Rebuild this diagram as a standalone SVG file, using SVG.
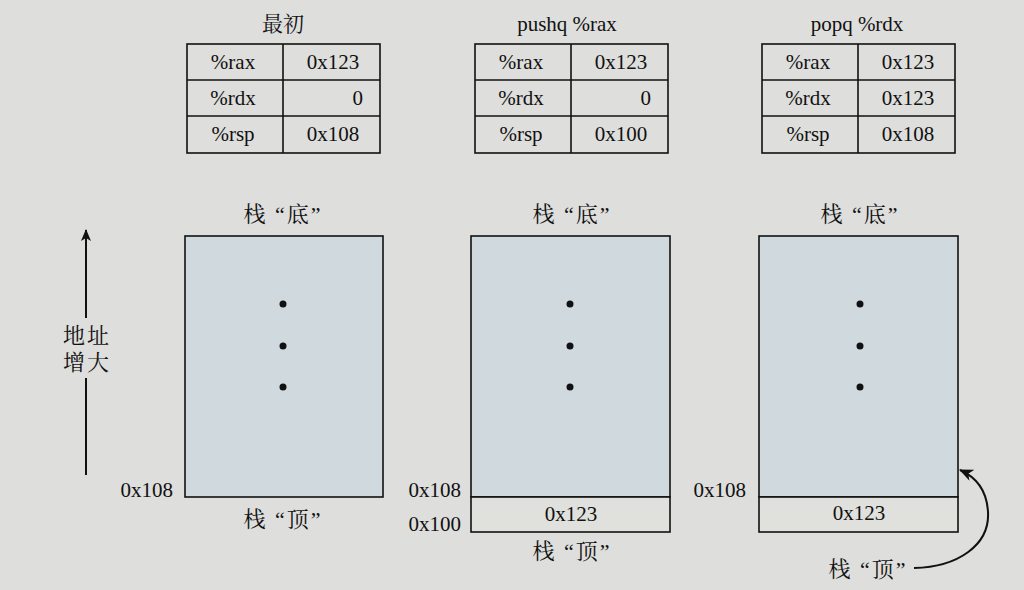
<svg xmlns="http://www.w3.org/2000/svg" width="1024" height="590" viewBox="0 0 1024 590">
<style>
.t{font-family:"Liberation Serif","Noto Serif CJK SC","Noto Sans CJK SC",serif;font-size:21px;fill:#111;}
.lb{font-size:22px;letter-spacing:2px;}
.c{text-anchor:middle;}
.r{text-anchor:end;}
.cell{fill:none;stroke:#111;stroke-width:1.6;}
.stk{fill:#cfd9de;stroke:#111;stroke-width:1.6;}
.low{fill:#e0e0dd;stroke:#111;stroke-width:1.6;}
.ln{fill:none;stroke:#111;stroke-width:2;}
</style>
<defs>
<marker id="ah" markerWidth="12" markerHeight="10" refX="11" refY="5" orient="auto" markerUnits="userSpaceOnUse">
<path d="M0,0 L12,5 L0,10 L3,5 Z" fill="#111"/>
</marker>
<marker id="ah2" markerWidth="14" markerHeight="12" refX="13" refY="6" orient="auto" markerUnits="userSpaceOnUse">
<path d="M0,0 L14,6 L0,12 L4,6 Z" fill="#111"/>
</marker>
</defs>
<rect width="1024" height="590" fill="#dededc"/>

<g id="table1">
<text class="t c" x="283" y="31">最初</text>
<rect class="cell" x="187" y="44" width="193" height="109"/>
<line class="cell" x1="283" y1="44" x2="283" y2="153"/>
<line class="cell" x1="187" y1="80" x2="380" y2="80"/>
<line class="cell" x1="187" y1="116" x2="380" y2="116"/>
<text class="t c" x="233" y="69">%rax</text>
<text class="t c" x="333" y="69">0x123</text>
<text class="t c" x="233" y="105">%rdx</text>
<text class="t r" x="363" y="105">0</text>
<text class="t c" x="233" y="141">%rsp</text>
<text class="t c" x="333" y="141">0x108</text>
</g>

<g id="table2">
<text class="t c" x="567" y="31">pushq %rax</text>
<rect class="cell" x="475" y="44" width="193" height="109"/>
<line class="cell" x1="571" y1="44" x2="571" y2="153"/>
<line class="cell" x1="475" y1="80" x2="668" y2="80"/>
<line class="cell" x1="475" y1="116" x2="668" y2="116"/>
<text class="t c" x="521" y="69">%rax</text>
<text class="t c" x="621" y="69">0x123</text>
<text class="t c" x="521" y="105">%rdx</text>
<text class="t r" x="651" y="105">0</text>
<text class="t c" x="521" y="141">%rsp</text>
<text class="t c" x="621" y="141">0x100</text>
</g>

<g id="table3">
<text class="t c" x="857" y="31">popq %rdx</text>
<rect class="cell" x="762" y="44" width="193" height="109"/>
<line class="cell" x1="858" y1="44" x2="858" y2="153"/>
<line class="cell" x1="762" y1="80" x2="955" y2="80"/>
<line class="cell" x1="762" y1="116" x2="955" y2="116"/>
<text class="t c" x="808" y="69">%rax</text>
<text class="t c" x="908" y="69">0x123</text>
<text class="t c" x="808" y="105">%rdx</text>
<text class="t c" x="908" y="105">0x123</text>
<text class="t c" x="808" y="141">%rsp</text>
<text class="t c" x="908" y="141">0x108</text>
</g>

<g id="addr-axis">
<line class="ln" x1="86" y1="318" x2="86" y2="230" marker-end="url(#ah)"/>
<line class="ln" x1="86" y1="378" x2="86" y2="475"/>
<text class="t c lb" x="87" y="343">地址</text>
<text class="t c lb" x="87" y="370">增大</text>
</g>

<g id="stack1">
<text class="t c lb" x="283" y="222">栈 “底”</text>
<rect class="stk" x="185" y="236" width="198" height="261"/>
<circle cx="283" cy="304" r="3.5" fill="#111"/>
<circle cx="283" cy="346" r="3.5" fill="#111"/>
<circle cx="283" cy="387" r="3.5" fill="#111"/>
<text class="t r" x="173" y="497">0x108</text>
<text class="t c lb" x="283" y="527">栈 “顶”</text>
</g>

<g id="stack2">
<text class="t c lb" x="572" y="222">栈 “底”</text>
<rect class="stk" x="471" y="236" width="199" height="261"/>
<rect class="low" x="471" y="497" width="199" height="35"/>
<circle cx="570" cy="304" r="3.5" fill="#111"/>
<circle cx="570" cy="346" r="3.5" fill="#111"/>
<circle cx="570" cy="387" r="3.5" fill="#111"/>
<text class="t c" x="571" y="521">0x123</text>
<text class="t r" x="461" y="497">0x108</text>
<text class="t r" x="461" y="531">0x100</text>
<text class="t c lb" x="572" y="559">栈 “顶”</text>
</g>

<g id="stack3">
<text class="t c lb" x="860" y="222">栈 “底”</text>
<rect class="stk" x="759" y="236" width="199" height="261"/>
<rect class="low" x="759" y="497" width="199" height="35"/>
<circle cx="860" cy="304" r="3.5" fill="#111"/>
<circle cx="860" cy="346" r="3.5" fill="#111"/>
<circle cx="860" cy="387" r="3.5" fill="#111"/>
<text class="t c" x="859" y="520">0x123</text>
<text class="t r" x="746" y="497">0x108</text>
<text class="t c lb" x="868" y="577">栈 “顶”</text>
</g>

<g id="connectors">
<path class="ln" d="M914,568 C958,567 990,545 988,512 C987,492 978,478 960,470" marker-end="url(#ah2)"/>
</g>
</svg>
